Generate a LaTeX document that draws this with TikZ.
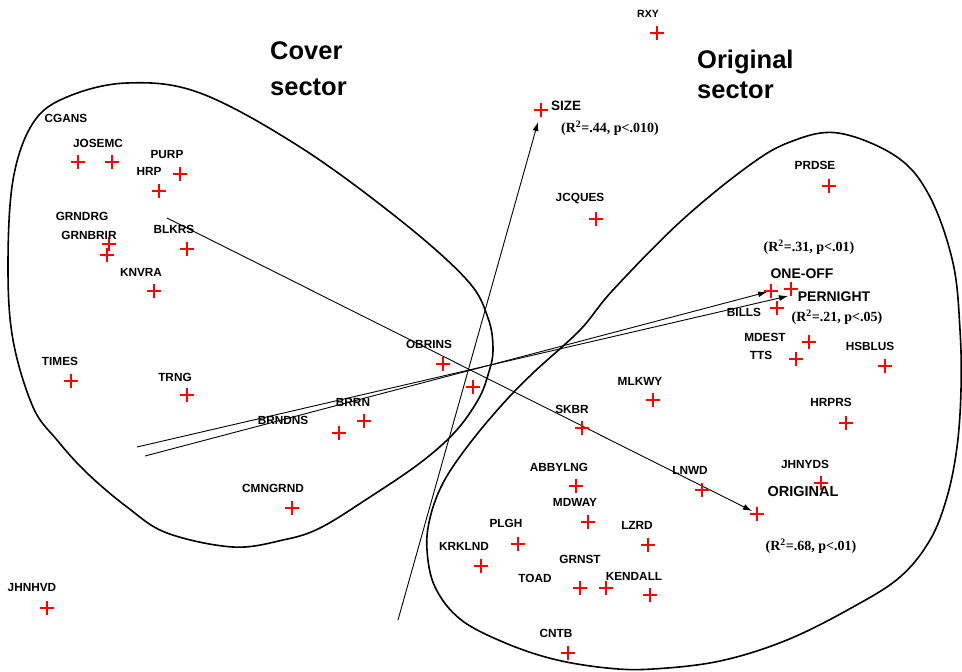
\documentclass[tikz,border=0pt]{standalone}
\usepackage{fontspec}
\setmainfont{Liberation Sans}
\newfontfamily\statfont{Liberation Serif}
\usetikzlibrary{shapes.misc,arrows.meta}
\tikzset{
  pt/.style={draw=red, cross out, rotate=45, minimum size=8.6pt, inner sep=0pt, line width=1.6pt},
  ptthin/.style={pt, line width=1.1pt},
  lbl/.style={font=\fontsize{11.8}{12}\selectfont\bfseries, inner sep=0pt},
  smalllbl/.style={font=\fontsize{10.5}{11}\selectfont\bfseries, inner sep=0pt},
  var/.style={font=\fontsize{14}{15}\selectfont\bfseries, inner sep=0pt},
  stat/.style={font=\fontsize{14}{15}\selectfont\statfont\bfseries, inner sep=0pt},
  region/.style={line width=1.6pt},
  axisline/.style={line width=0.9pt, -{Latex[length=9pt,width=6pt]}},
}
\begin{document}
\begin{tikzpicture}[x=1pt,y=-1pt]
\useasboundingbox (0,0) rectangle (962,672);

% sector regions
\draw[region] plot[smooth cycle, tension=0.6] coordinates {
 (127,83) (200,93) (300,147) (400,220) (467,280) (488,318) (493,350) (488,375)
 (478,400) (455,432) (420,463) (370,497) (320,528) (283,540) (233,547) (167,533)
 (127,507) (87,473) (57,440) (33,407) (13,340) (8,267) (13,180) (33,123) (67,97)};
\draw[region] plot[smooth cycle, tension=0.6] coordinates {
 (838,133) (897,157) (930,197) (953,263) (960,330) (961,390) (957,447) (947,497)
 (930,540) (900,577) (853,607) (787,640) (720,661) (653,669) (607,668) (553,659)
 (503,642) (460,619) (435,587) (427,550) (430,518) (443,483) (467,447) (500,407)
 (533,373) (580,330) (613,290) (680,222) (747,167) (790,142)};

% titles
\node[font=\fontsize{25.5}{36}\selectfont\bfseries, align=left, inner sep=0pt, anchor=north west] (covertitle) at (270,41) {Cover\\sector};
\node[font=\fontsize{25.5}{30}\selectfont\bfseries, align=left, inner sep=0pt, anchor=north west] (origtitle) at (697,49.5) {Original\\sector};

% axes
\coordinate (sizeT) at (398,620);
\coordinate (sizeH) at (538,122);
\coordinate (origT) at (167,218);
\coordinate (origH) at (752,511);
\coordinate (pernT) at (137,447);
\coordinate (pernH) at (788,296);
\coordinate (oneT) at (145,456);
\coordinate (oneH) at (767,292);
\draw[axisline] (sizeT) -- (sizeH);
\draw[axisline] (origT) -- (origH);
\draw[axisline] (pernT) -- (pernH);
\draw[axisline] (oneT) -- (oneH);

% points
\node[pt] (p-cgans) at (78,162) {};
\node[pt] (p-josemc) at (112,162) {};
\node[pt] (p-purp) at (180,174) {};
\node[pt] (p-hrp) at (159,191) {};
\node[pt] (p-grndrg) at (109,244) {};
\node[pt] (p-grnbrir) at (107,255) {};
\node[ptthin] (p-blkrs) at (187,249) {};
\node[pt] (p-knvra) at (154,291) {};
\node[pt] (p-times) at (71,381) {};
\node[pt] (p-trng) at (187,395) {};
\node[pt] (p-obrins) at (443,364) {};
\node[pt] (p-center) at (473,387) {};
\node[pt] (p-brrn) at (364,421) {};
\node[pt] (p-brndns) at (339,433) {};
\node[pt] (p-cmngrnd) at (292,508) {};
\node[pt] (p-jhnhvd) at (47,608) {};
\node[pt] (p-rxy) at (657,33) {};
\node[ptthin] (p-size) at (541,110) {};
\node[ptthin] (p-jcques) at (596,219) {};
\node[pt] (p-prdse) at (829,186) {};
\node[pt] (p-oneoff) at (771,291) {};
\node[pt] (p-pernight) at (791,289) {};
\node[pt] (p-bills) at (777,308) {};
\node[pt] (p-mdest) at (809,342) {};
\node[pt] (p-tts) at (796,359) {};
\node[pt] (p-hsblus) at (885,366) {};
\node[pt] (p-mlkwy) at (653,400) {};
\node[pt] (p-hrprs) at (846,423) {};
\node[pt] (p-skbr) at (582,428) {};
\node[pt] (p-abbylng) at (576,486) {};
\node[pt] (p-mdway) at (588,522) {};
\node[pt] (p-lnwd) at (702,490) {};
\node[pt] (p-jhnyds) at (821,483) {};
\node[pt] (p-original) at (757,514) {};
\node[pt] (p-plgh) at (518,544) {};
\node[pt] (p-lzrd) at (648,545) {};
\node[pt] (p-krklnd) at (481,566) {};
\node[pt] (p-toad) at (580,588) {};
\node[pt] (p-grnst) at (606,588) {};
\node[pt] (p-kendall) at (650,595) {};
\node[pt] (p-cntb) at (568,653) {};

% point labels
\node[lbl] (l-cgans) at (66,118) {CGANS};
\node[lbl] (l-josemc) at (98,143) {JOSEMC};
\node[lbl] (l-purp) at (167,154) {PURP};
\node[lbl] (l-hrp) at (149,171) {HRP};
\node[lbl] (l-grndrg) at (82,216) {GRNDRG};
\node[lbl] (l-grnbrir) at (89,235) {GRNBRIR};
\node[lbl] (l-blkrs) at (174,229) {BLKRS};
\node[lbl] (l-knvra) at (141,272) {KNVRA};
\node[lbl] (l-times) at (60,361) {TIMES};
\node[lbl] (l-trng) at (175,377) {TRNG};
\node[lbl] (l-obrins) at (429,344) {OBRINS};
\node[lbl] (l-brrn) at (353,402) {BRRN};
\node[lbl] (l-brndns) at (283,420) {BRNDNS};
\node[lbl] (l-cmngrnd) at (273,488) {CMNGRND};
\node[lbl] (l-jhnhvd) at (32,587) {JHNHVD};
\node[smalllbl] (l-rxy) at (648,14) {RXY};
\node[lbl] (l-jcques) at (580,199) {JCQUES};
\node[lbl] (l-prdse) at (815,165) {PRDSE};
\node[lbl] (l-bills) at (744,312) {BILLS};
\node[lbl] (l-mdest) at (765,337) {MDEST};
\node[lbl] (l-tts) at (761,355) {TTS};
\node[lbl] (l-hsblus) at (870,346) {HSBLUS};
\node[lbl] (l-mlkwy) at (640,381) {MLKWY};
\node[lbl] (l-hrprs) at (831,402) {HRPRS};
\node[lbl] (l-skbr) at (572,409) {SKBR};
\node[lbl] (l-abbylng) at (559,467) {ABBYLNG};
\node[lbl] (l-mdway) at (575,502) {MDWAY};
\node[lbl] (l-lnwd) at (690,470) {LNWD};
\node[lbl] (l-jhnyds) at (805,464) {JHNYDS};
\node[lbl] (l-plgh) at (506,523) {PLGH};
\node[lbl] (l-lzrd) at (637,525) {LZRD};
\node[lbl] (l-krklnd) at (464,546) {KRKLND};
\node[lbl] (l-grnst) at (580,559) {GRNST};
\node[lbl] (l-toad) at (535,578) {TOAD};
\node[lbl] (l-kendall) at (634,576) {KENDALL};
\node[lbl] (l-cntb) at (556,633) {CNTB};

% variable labels
\node[var, font=\fontsize{13.5}{14}\selectfont\bfseries, anchor=west] (v-size) at (551,106) {SIZE};
\node[stat] (s-size) at (610,128) {(R\textsuperscript{2}=.44, p<.010)};
\node[stat] (s-oneoff) at (809,247) {(R\textsuperscript{2}=.31, p<.01)};
\node[var] (v-oneoff) at (802,274) {ONE-OFF};
\node[var] (v-pernight) at (834,297) {PERNIGHT};
\node[stat] (s-pernight) at (837,317) {(R\textsuperscript{2}=.21, p<.05)};
\node[var, font=\fontsize{14.5}{15}\selectfont\bfseries] (v-original) at (803,492) {ORIGINAL};
\node[stat] (s-original) at (811,546) {(R\textsuperscript{2}=.68, p<.01)};
\end{tikzpicture}
\end{document}
